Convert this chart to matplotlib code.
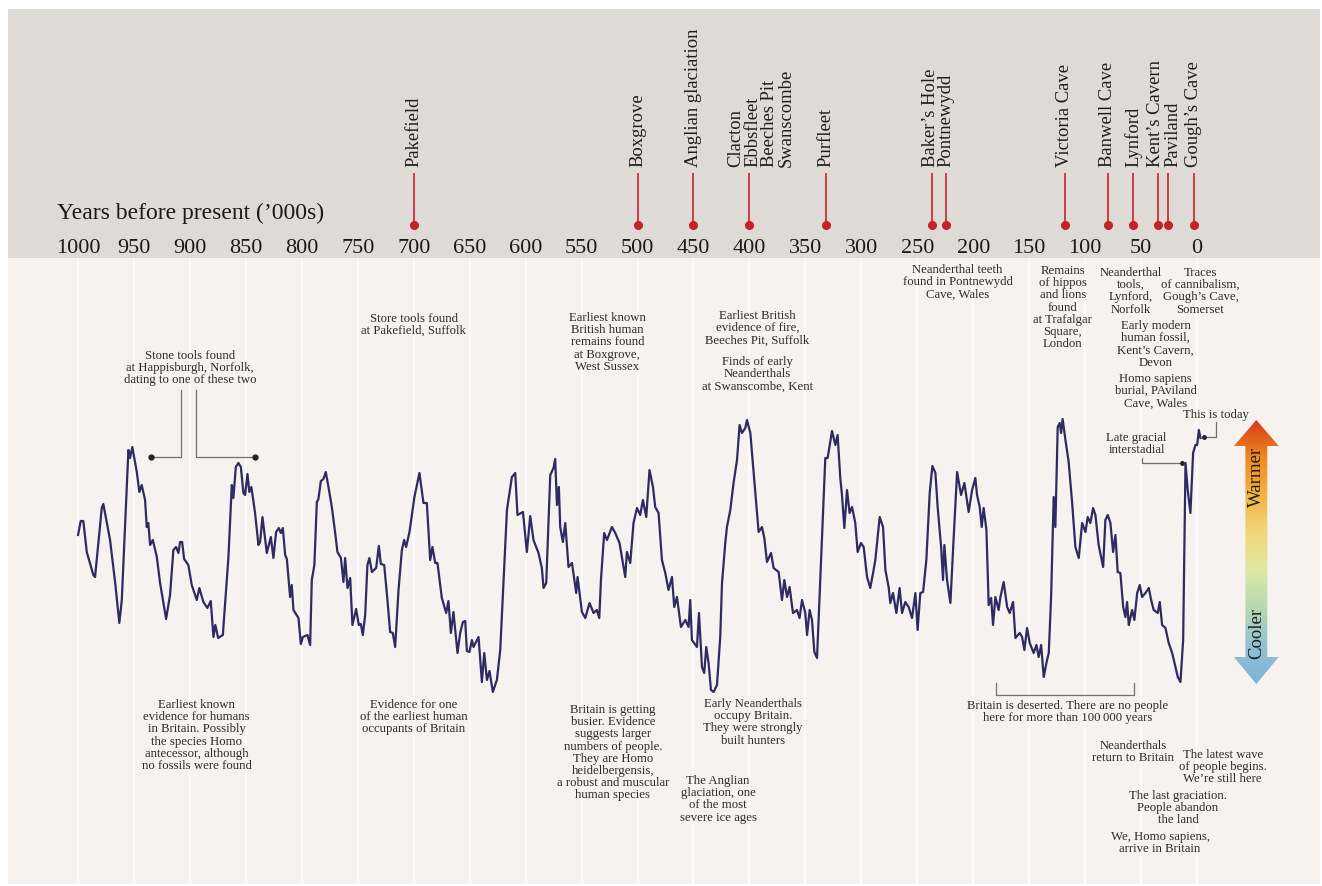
import matplotlib.pyplot as plt
import numpy as np
from matplotlib.patches import Polygon
from matplotlib.colors import LinearSegmentedColormap

plt.rcParams['font.family'] = ['Liberation Serif', 'DejaVu Serif']

# climate curve: thousands of years before present vs relative warmth index
years = [1000.0, 997.6, 995.3, 992.2, 986.3, 984.8, 978.8, 977.4, 971.4, 966.9, 963.1, 960.9,
         955.0, 953.5, 951.5, 947.5, 945.2, 943.1, 940.1, 938.6, 937.2, 935.6, 933.2, 929.6,
         926.7, 921.3, 917.8, 914.8, 912.4, 910.3, 908.8, 907.0, 905.2, 901.4, 898.4, 893.9,
         891.6, 888.0, 884.4, 881.4, 879.0, 877.3, 874.8, 870.6, 865.6, 862.6, 861.2, 859.0,
         856.7, 854.5, 852.2, 850.7, 848.6, 846.9, 845.1, 841.8, 838.8, 837.3, 835.2, 831.3,
         827.7, 825.4, 823.0, 820.6, 818.8, 817.0, 814.9, 813.4, 810.5, 809.0, 807.5, 803.0,
         800.9, 799.1, 795.0, 792.6, 791.1, 788.8, 786.6, 785.2, 783.0, 780.7, 778.6, 776.2,
         773.2, 770.2, 768.2, 765.1, 762.8, 761.3, 759.2, 756.8, 754.8, 751.5, 749.1, 747.3,
         745.5, 743.4, 741.4, 739.6, 737.4, 733.6, 731.2, 729.4, 726.4, 723.5, 721.1, 718.7,
         716.6, 713.6, 710.6, 708.6, 706.8, 703.8, 699.4, 694.9, 691.3, 688.3, 685.3, 683.3,
         680.8, 678.8, 674.9, 671.0, 669.0, 666.8, 664.5, 660.9, 658.5, 656.1, 654.0, 652.5,
         650.2, 648.0, 646.6, 642.1, 639.1, 637.0, 634.6, 632.3, 629.3, 625.7, 622.7, 616.7,
         612.3, 609.3, 607.3, 602.4, 598.9, 595.9, 593.0, 588.5, 585.5, 584.0, 581.6, 578.0,
         575.1, 573.6, 572.0, 570.3, 569.1, 566.7, 564.6, 561.7, 558.6, 554.8, 553.6, 549.7,
         546.7, 542.9, 539.3, 536.3, 534.2, 532.7, 529.8, 527.3, 522.9, 519.9, 516.1, 511.0,
         509.5, 506.5, 503.6, 500.5, 497.6, 495.2, 492.2, 489.3, 486.2, 484.2, 481.2, 478.2,
         475.2, 472.3, 469.2, 467.2, 464.8, 461.2, 457.3, 454.4, 452.9, 451.4, 446.9, 445.1,
         442.4, 440.4, 438.6, 436.5, 434.4, 432.0, 429.0, 426.1, 424.5, 421.6, 420.1, 417.1,
         414.2, 411.1, 408.8, 406.7, 403.7, 402.2, 399.2, 396.3, 393.9, 391.8, 388.8, 386.7,
         384.3, 380.7, 378.4, 373.9, 370.9, 368.8, 366.4, 364.1, 361.1, 357.5, 355.2, 353.0,
         350.1, 348.5, 346.2, 344.1, 342.0, 339.6, 336.7, 332.2, 330.1, 326.2, 323.2, 321.2,
         318.8, 317.3, 315.2, 312.8, 310.5, 308.3, 305.4, 303.3, 300.3, 297.9, 294.9, 292.0,
         289.5, 287.5, 283.6, 280.6, 278.5, 275.6, 274.1, 271.7, 268.7, 265.8, 263.6, 260.7,
         257.7, 254.7, 251.7, 249.7, 247.3, 244.8, 241.9, 238.9, 236.5, 233.8, 231.8, 228.7,
         227.0, 225.8, 223.4, 220.4, 217.5, 214.4, 210.9, 207.9, 204.1, 201.0, 198.1, 196.6,
         194.2, 192.4, 190.7, 188.2, 186.2, 184.0, 182.3, 180.2, 177.3, 175.7, 172.8, 169.7,
         167.4, 164.4, 162.3, 158.5, 156.3, 154.3, 151.9, 149.5, 146.0, 143.5, 141.5, 139.3,
         137.0, 134.6, 132.5, 130.4, 128.1, 126.6, 124.5, 122.7, 121.5, 120.1, 117.6, 114.7,
         111.6, 108.7, 105.7, 102.7, 99.7, 97.7, 95.3, 92.9, 90.8, 87.9, 83.9, 81.9,
         79.8, 77.4, 75.0, 72.9, 70.9, 68.5, 66.0, 64.0, 62.5, 61.0, 58.0, 56.0,
         53.5, 51.2, 49.1, 46.1, 43.1, 41.0, 38.7, 35.1, 33.3, 31.2, 28.2, 25.3,
         22.2, 19.3, 17.2, 14.8, 12.4, 10.3, 8.3, 5.9, 3.5, 1.4, -0.1, -1.6, -3.1]
warmth = [165, 179, 179, 148, 125, 123, 192, 196, 160, 118, 77, 100,
          250, 242, 253, 228, 208, 215, 200, 173, 177, 155, 160, 143,
          117, 81, 105, 150, 153, 147, 158, 158, 141, 135, 115, 100,
          112, 98, 92, 99, 63, 75, 62, 65, 143, 215, 202, 233,
          237, 233, 207, 205, 226, 208, 213, 187, 155, 158, 183, 147,
          163, 142, 168, 172, 167, 172, 145, 141, 103, 115, 90, 82,
          56, 63, 65, 55, 120, 135, 198, 201, 219, 221, 228, 213,
          193, 167, 148, 142, 118, 142, 112, 122, 75, 91, 75, 76,
          65, 85, 135, 142, 128, 132, 154, 136, 135, 100, 68, 67,
          53, 110, 150, 160, 153, 168, 203, 227, 197, 197, 140, 153,
          137, 137, 102, 87, 99, 67, 88, 47, 67, 78, 79, 49,
          48, 60, 53, 63, 18, 47, 20, 29, 8, 20, 50, 190,
          223, 227, 185, 188, 148, 184, 160, 147, 132, 112, 117, 225,
          232, 241, 195, 213, 173, 158, 177, 133, 137, 107, 123, 88,
          82, 97, 87, 90, 82, 120, 167, 160, 173, 167, 157, 123,
          148, 137, 177, 192, 185, 200, 183, 230, 213, 193, 187, 140,
          127, 110, 123, 93, 103, 73, 80, 73, 100, 60, 53, 87,
          33, 27, 53, 37, 10, 8, 15, 63, 117, 157, 173, 190,
          217, 240, 275, 267, 272, 280, 267, 228, 197, 168, 173, 162,
          138, 147, 132, 128, 100, 120, 103, 113, 87, 90, 82, 100,
          87, 65, 90, 80, 48, 42, 120, 242, 242, 269, 255, 265,
          222, 205, 172, 210, 187, 193, 177, 148, 157, 153, 123, 112,
          127, 140, 183, 173, 130, 113, 97, 107, 87, 112, 87, 98,
          93, 82, 107, 70, 107, 108, 140, 207, 234, 227, 193, 153,
          120, 155, 120, 97, 162, 228, 205, 217, 188, 210, 222, 205,
          193, 173, 192, 170, 95, 102, 75, 103, 90, 103, 118, 93,
          87, 98, 62, 67, 63, 50, 72, 57, 47, 55, 43, 55,
          23, 37, 47, 103, 203, 173, 273, 277, 267, 281, 260, 238,
          197, 153, 142, 177, 168, 183, 177, 192, 185, 155, 133, 180,
          185, 177, 148, 165, 128, 127, 93, 83, 98, 75, 90, 80,
          107, 115, 103, 107, 112, 100, 90, 87, 98, 75, 72, 57,
          47, 33, 23, 18, 60, 237, 210, 187, 247, 255, 255, 270, 262]

tick_years = list(range(1000, -1, -50))

site_names = ["Pakefield", "Boxgrove", "Anglian glaciation",
              "Clacton\nEbbsfleet\nBeeches Pit\nSwanscombe", "Purfleet",
              "Baker’s Hole", "Pontnewydd", "Victoria Cave", "Banwell Cave",
              "Lynford", "Kent’s Cavern", "Paviland", "Gough’s Cave"]
site_years = [700, 500, 450, 400, 332, 237, 224, 118, 80, 57, 35, 26, 3]
site_nudge = [0, 0, 0, 8.5, 0, -1, 0, 0, 0, 0, -2, 3.5, 0]

# (text, centre year, top of text on the warmth scale)
notes = [
    ("Stone tools found\nat Happisburgh, Norfolk,\ndating to one of these two", 900, 350),
    ("Store tools found\nat Pakefield, Suffolk", 700, 387),
    ("Earliest known\nBritish human\nremains found\nat Boxgrove,\nWest Sussex", 527, 388),
    ("Earliest British\nevidence of fire,\nBeeches Pit, Suffolk", 393, 390),
    ("Finds of early\nNeanderthals\nat Swanscombe, Kent", 393, 344),
    ("Neanderthal teeth\nfound in Pontnewydd\nCave, Wales", 214, 436),
    ("Remains\nof hippos\nand lions\nfound\nat Trafalgar\nSquare,\nLondon", 120, 435),
    ("Neanderthal\ntools,\nLynford,\nNorfolk", 59, 433),
    ("Traces\nof cannibalism,\nGough’s Cave,\nSomerset", -3, 433),
    ("Early modern\nhuman fossil,\nKent’s Cavern,\nDevon", 37, 380),
    ("Homo sapiens\nburial, PAviland\nCave, Wales", 37, 327),
    ("This is today", -16.5, 291),
    ("Late gracial\ninterstadial", 54, 268),
    ("Earliest known\nevidence for humans\nin Britain. Possibly\nthe species Homo\n"
     "antecessor, although\nno fossils were found", 894, 1),
    ("Evidence for one\nof the earliest human\noccupants of Britain", 700, 1),
    ("Britain is getting\nbusier. Evidence\nsuggests larger\nnumbers of people.\n"
     "They are Homo\nheidelbergensis,\na robust and muscular\nhuman species", 522, -4),
    ("Early Neanderthals\noccupy Britain.\nThey were strongly\nbuilt hunters", 397, 2),
    ("The Anglian\nglaciation, one\nof the most\nsevere ice ages", 428, -75),
    ("Britain is deserted. There are no people\nhere for more than 100\u2009000 years", 116, 0),
    ("Neanderthals\nreturn to Britain", 57, -40),
    ("The latest wave\nof people begins.\nWe’re still here", -23, -49),
    ("The last graciation.\nPeople abandon\nthe land", 17, -90),
    ("We, Homo sapiens,\narrive in Britain", 33, -131),
]

CURVE = '#2e2a62'
RED = '#c62127'
TEXT = '#2c2c2c'
LEAD = '#707070'
BAND = '#dedbd7'
PAPER = '#f5f2ef'

W, H = 1322, 886
fig = plt.figure(figsize=(W / 100, H / 100), dpi=100)
fig.patch.set_facecolor('white')
x_left, x_right = 1062.6, -109.9

# main panel with the curve
ax = fig.add_axes([8 / W, 2 / H, 1312 / W, 626 / H])
ax.set_facecolor(PAPER)
ax.set_xticks(tick_years)
ax.set_yticks([])
ax.tick_params(axis='x', length=0, labelbottom=False)
ax.grid(axis='x', color='white', lw=1.1)
ax.set_axisbelow(True)
for s in ax.spines.values():
    s.set_visible(False)

ax.plot(years, warmth, color=CURVE, lw=1.6, solid_joinstyle='round', zorder=3)

for txt, x, y in notes:
    ax.text(x, y, txt, ha='center', va='top', fontsize=9.2, linespacing=1.02,
            color=TEXT, zorder=4)

# leaders: Happisburgh pair
ax.plot([908, 908, 935], [310, 243, 243], color=LEAD, lw=0.9)
ax.plot([895, 895, 842], [310, 243, 243], color=LEAD, lw=0.9)
ax.plot([935, 842], [243, 243], 'o', color='#222222', ms=3.5)
# today / late glacial
ax.plot([-17.4, -17.4, -6.6], [278, 263, 263], color=LEAD, lw=0.9)
ax.plot([-6.6], [263], 'o', color='#222222', ms=2.5)
ax.plot([49, 49, 13.3], [242, 237, 237], color=LEAD, lw=0.9)
ax.plot([13.3], [237], 'o', color='#222222', ms=2.5)
# Britain deserted bracket
ax.plot([180, 180, 56, 56], [17, 5, 5, 17], color=LEAD, lw=0.9)

# warmer / cooler arrow
cx = -53
arrow_xy = [(cx, 280), (cx + 20, 254), (cx + 9.8, 254), (cx + 9.8, 43), (cx + 20, 43),
            (cx, 16), (cx - 20, 43), (cx - 9.8, 43), (cx - 9.8, 254), (cx - 20, 254)]
arrow = Polygon(arrow_xy, closed=True, fc='none', ec='none')
ax.add_patch(arrow)
cmap = LinearSegmentedColormap.from_list(
    'warmcool', ['#7db2da', '#92c2d2', '#b8d8b2', '#dde8a2', '#f1d77c',
                 '#f3b444', '#ef8a1f', '#d63c1a'])
grad = np.linspace(0, 1, 256).reshape(-1, 1)
im = ax.imshow(grad, extent=(cx - 20, cx + 20, 16, 280), origin='lower', cmap=cmap,
               aspect='auto', zorder=2)
im.set_clip_path(arrow)
ax.text(cx, 223, 'Warmer', rotation=90, ha='center', va='center', fontsize=13.5, color='#1e1e1e')
ax.text(cx, 67, 'Cooler', rotation=90, ha='center', va='center', fontsize=13.5, color='#1e1e1e')

ax.set_xlim(x_left, x_right)
ax.set_ylim(-184, 442)

# grey timeline band
top = fig.add_axes([8 / W, 628 / H, 1312 / W, 249 / H])
top.set_facecolor(BAND)
top.set_xlim(x_left, x_right)
top.set_ylim(0, 1)
top.set_xticks([])
top.set_yticks([])
for s in top.spines.values():
    s.set_visible(False)

top.vlines(site_years, 0.1325, 0.341, color=RED, lw=1.2)
top.plot(site_years, [0.1325] * len(site_years), 'o', color=RED, ms=5.5)
for name, yr, dx in zip(site_names, site_years, site_nudge):
    top.annotate(name, (yr, 0.365), xytext=(dx, 0), textcoords='offset points',
                 rotation=90, ha='center', va='bottom', multialignment='left',
                 fontsize=13.4, linespacing=0.98, color='#1e1e1e')

for t in tick_years:
    top.text(t, 0.02, str(t), ha='center', va='baseline', fontsize=16, color='#1a1a1a')
top.text(1018.8, 0.157, "Years before present (’000s)", ha='left', va='baseline',
         fontsize=17, color='#1a1a1a')

fig.savefig('out.png', dpi=100)
